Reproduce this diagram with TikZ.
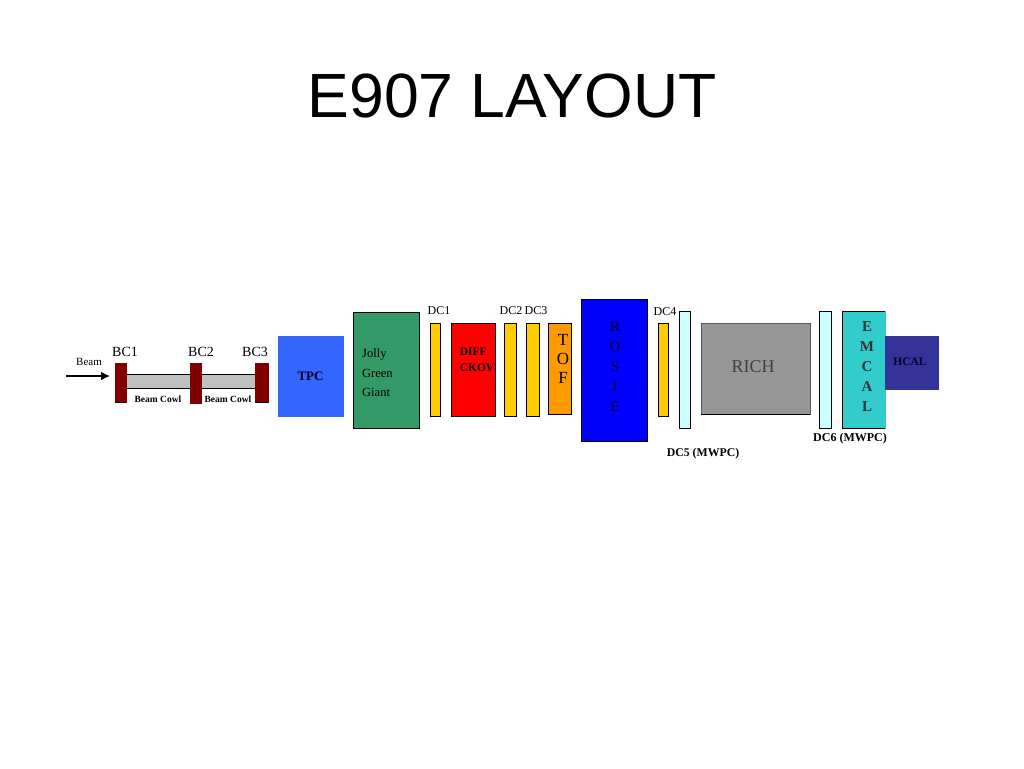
\documentclass[tikz,border=0pt]{standalone}
\usepackage{fontspec}
\usetikzlibrary{arrows.meta}
\setmainfont{Liberation Serif}
\newfontfamily\titlefont{Liberation Sans}
\definecolor{cowlgray}{HTML}{C0C0C0}
\definecolor{maroon}{HTML}{800000}
\definecolor{tpcblue}{HTML}{3366FF}
\definecolor{giantgreen}{HTML}{339966}
\definecolor{dcyellow}{HTML}{FFCC00}
\definecolor{toforange}{HTML}{FF9900}
\definecolor{rosieblue}{HTML}{0000FF}
\definecolor{richgray}{HTML}{969696}
\definecolor{dcpale}{HTML}{CCFFFF}
\definecolor{emteal}{HTML}{33CCCC}
\definecolor{hcalblue}{HTML}{333399}
\tikzset{
  box/.style={rectangle,inner sep=0pt,outer sep=0pt,draw=#1,line width=0.8pt},
  box/.default=black,
  lbl/.style={inner sep=0pt,font=\fontsize{11}{12}\selectfont,text=black},
  stack/.style={inner sep=0pt,align=center,font=\fontsize{15}{20}\selectfont\bfseries},
}
\begin{document}
\begin{tikzpicture}[x=1pt,y=-1pt]
\useasboundingbox (0,0) rectangle (1024,768);
\fill[white] (0,0) rectangle (1024,768);
\node[inner sep=0pt,font=\titlefont\fontsize{62.5}{70}\selectfont] (title) at (512,96) {E907 LAYOUT};

% beam cowls (behind the chambers)
\node[box,fill=cowlgray,line width=1.4pt,minimum width=130pt,minimum height=14pt] (cowl) at (191,381.5) {};

% beam chambers
\node[box=maroon,fill=maroon,minimum width=11pt,minimum height=39pt] (bc1) at (120.5,382.5) {};
\node[box=maroon,fill=maroon,minimum width=11pt,minimum height=40pt] (bc2) at (195.5,383) {};
\node[box=maroon,fill=maroon,minimum width=13pt,minimum height=39pt] (bc3) at (261.5,382.5) {};
\draw[line width=0.8pt] (bc1.south west) -- (bc1.south east);
\draw[line width=0.8pt] (bc3.south west) -- (bc3.south east);

\node[lbl] (beam) at (89,362) {Beam};
\coordinate (beamstart) at (66,376);
\coordinate (beamend) at (110,376);
\draw[line width=1.6pt,-{Latex[length=9pt,width=9pt]}] (beamstart) -- (beamend);

\node[lbl,font=\fontsize{14}{14}\selectfont] (bc1t) at (125,352) {BC1};
\node[lbl,font=\fontsize{14}{14}\selectfont] (bc2t) at (201,352) {BC2};
\node[lbl,font=\fontsize{14}{14}\selectfont] (bc3t) at (255,352) {BC3};
\node[lbl,font=\fontsize{9.5}{10}\selectfont\bfseries] (c1t) at (158,399) {Beam Cowl};
\node[lbl,font=\fontsize{9.5}{10}\selectfont\bfseries] (c2t) at (228,399) {Beam Cowl};

% detectors
\node[box=tpcblue,fill=tpcblue,minimum width=65pt,minimum height=80pt,font=\fontsize{13}{14}\selectfont\bfseries,text=black!85!blue] (tpc) at (310.5,376) {TPC};
\node[box,fill=giantgreen,minimum width=66pt,minimum height=116pt] (jgg) at (386,370) {};
\node[lbl,align=left,anchor=west,font=\fontsize{12.5}{19.5}\selectfont] (jggt) at (362,373) {Jolly\\Green\\Giant};

\node[box,fill=dcyellow,minimum width=10pt,minimum height=93pt] (dc1) at (435,369.5) {};
\node[lbl,font=\fontsize{12}{12}\selectfont] (dc1t) at (439,311) {DC1};
\node[box,fill=red,minimum width=44pt,minimum height=93pt] (diff) at (473,369.5) {};
\node[lbl,align=left,font=\fontsize{11.5}{16}\selectfont\bfseries] (difft) at (477,360) {DIFF\\CKOV};
\node[box,fill=dcyellow,minimum width=12pt,minimum height=93pt] (dc2) at (510,369.5) {};
\node[lbl,font=\fontsize{12}{12}\selectfont] (dc2t) at (511,311) {DC2};
\node[box,fill=dcyellow,minimum width=13pt,minimum height=93pt] (dc3) at (532.5,369.5) {};
\node[lbl,font=\fontsize{12}{12}\selectfont] (dc3t) at (536,311) {DC3};
\node[box,fill=toforange,minimum width=23pt,minimum height=91pt] (tof) at (559.5,368.5) {};
\node[stack,font=\fontsize{17}{19}\selectfont] (toft) at (563,359) {T\\O\\F};
\node[box,fill=rosieblue,minimum width=66pt,minimum height=142pt] (rosie) at (614,370) {};
\node[stack,text=blue!40!black] (rosiet) at (615,367) {R\\O\\S\\I\\E};

\node[box,fill=dcyellow,minimum width=10pt,minimum height=93pt] (dc4) at (663,369.5) {};
\node[lbl,font=\fontsize{12}{12}\selectfont] (dc4t) at (665,312) {DC4};
\node[box,fill=dcpale,minimum width=11pt,minimum height=117pt] (dc5) at (684.5,369.5) {};
\node[lbl,font=\fontsize{11.8}{12}\selectfont\bfseries] (dc5t) at (703,454) {DC5 (MWPC)};
\node[box=richgray!60!black,fill=richgray,minimum width=109pt,minimum height=91pt] (rich) at (755.5,368.5) {};
\node[lbl,font=\fontsize{18}{18}\selectfont,text=black!75] (richt) at (753,367) {RICH};
\draw[line width=1pt] (rich.south west) -- (rich.south east);
\node[box,fill=dcpale,minimum width=12pt,minimum height=117pt] (dc6) at (825,369.5) {};
\node[lbl,font=\fontsize{12}{12}\selectfont\bfseries] (dc6t) at (850,439) {DC6 (MWPC)};
\node[box=emteal,fill=emteal,minimum width=43pt,minimum height=117pt] (emcal) at (863.5,369.5) {};
\draw[line width=0.8pt] (emcal.north east) -- (emcal.north west) -- (emcal.south west) -- (emcal.south east);
\node[stack,text=black!80] (emcalt) at (867,367) {E\\M\\C\\A\\L};
\node[box=hcalblue,fill=hcalblue,minimum width=53pt,minimum height=53pt] (hcal) at (911.5,362.5) {};
\node[lbl,font=\fontsize{11.5}{12}\selectfont\bfseries,text=black!85!blue] (hcalt) at (910,362) {HCAL};
\end{tikzpicture}
\end{document}
